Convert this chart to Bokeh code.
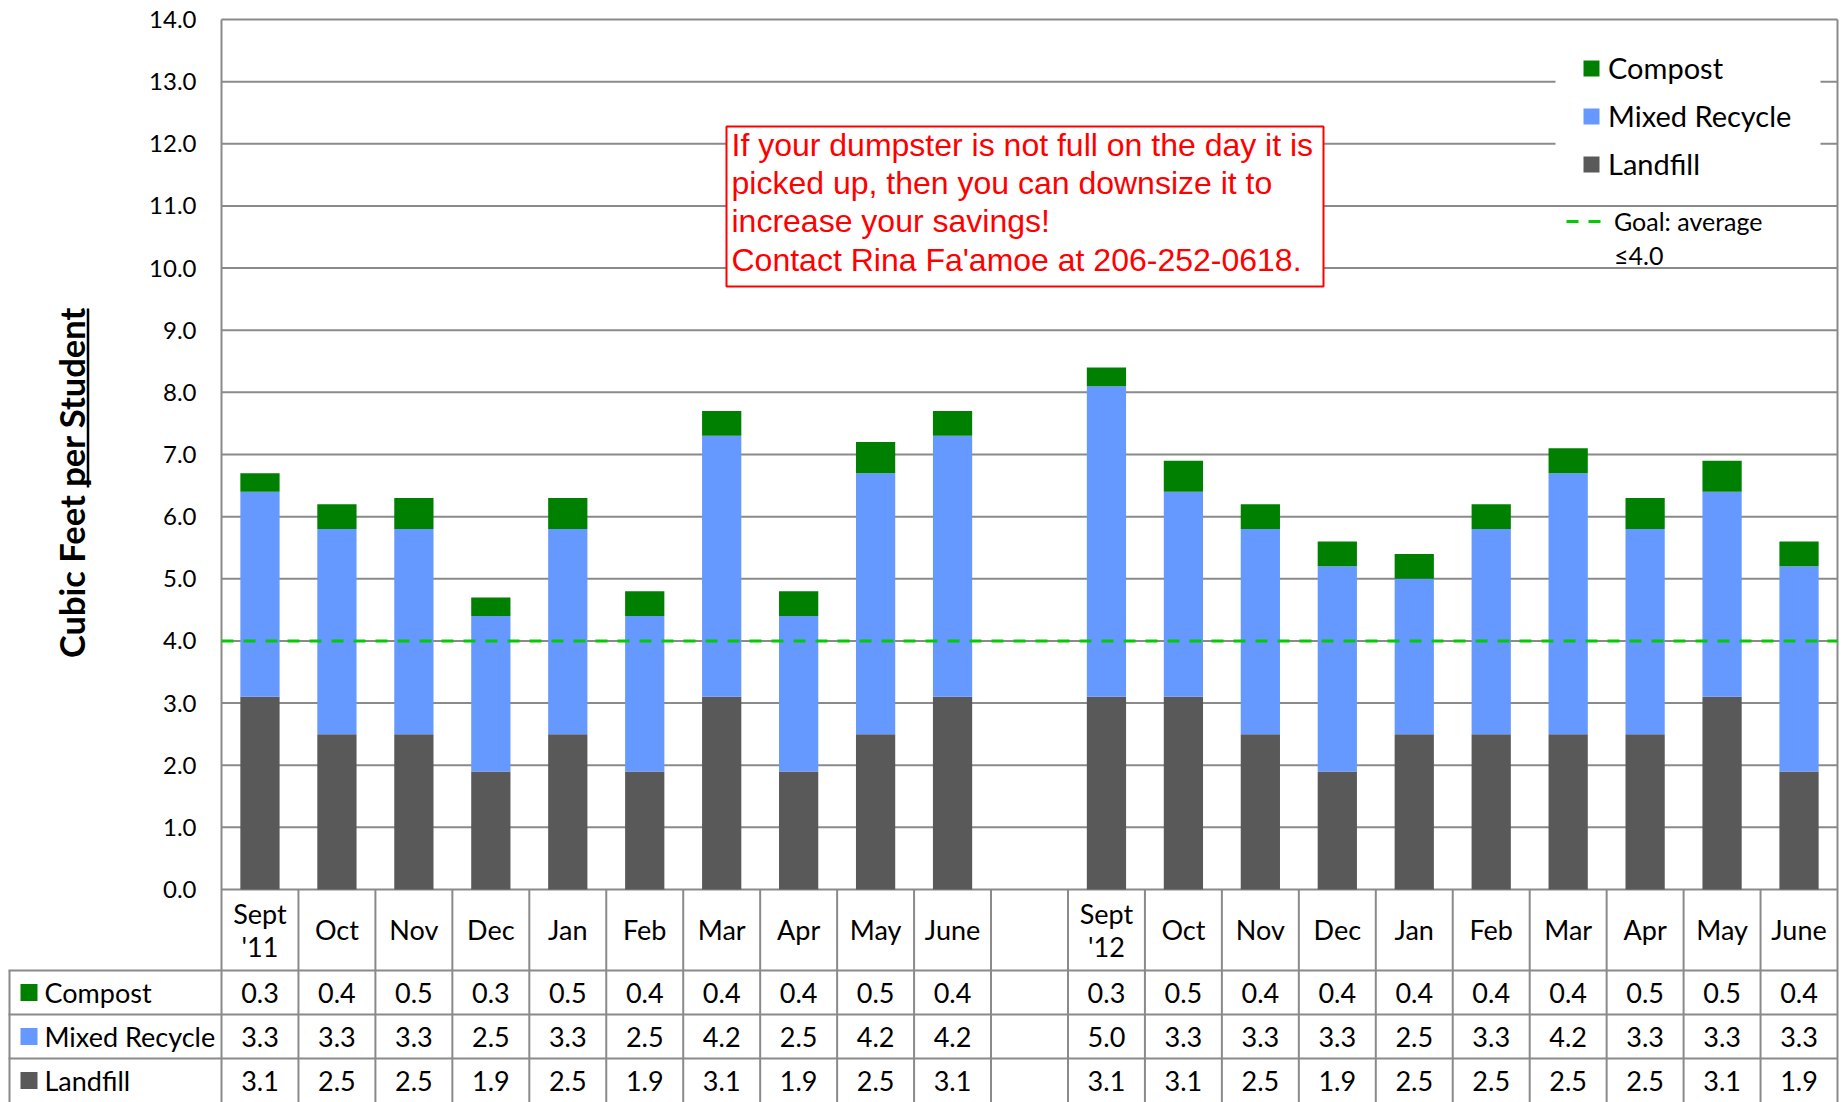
import math
from bokeh.plotting import figure
from bokeh.models import Range1d, Legend, LegendItem, ColumnDataSource
from bokeh.core.properties import value
from bokeh.embed import file_html
from bokeh.resources import INLINE

# ---------------- data ----------------
months = ["Sept\n'11", "Oct", "Nov", "Dec", "Jan", "Feb", "Mar", "Apr", "May", "June", "",
          "Sept\n'12", "Oct", "Nov", "Dec", "Jan", "Feb", "Mar", "Apr", "May", "June"]
compost = [0.3, 0.4, 0.5, 0.3, 0.5, 0.4, 0.4, 0.4, 0.5, 0.4, None,
           0.3, 0.5, 0.4, 0.4, 0.4, 0.4, 0.4, 0.5, 0.5, 0.4]
mixed_recycle = [3.3, 3.3, 3.3, 2.5, 3.3, 2.5, 4.2, 2.5, 4.2, 4.2, None,
                 5.0, 3.3, 3.3, 3.3, 2.5, 3.3, 4.2, 3.3, 3.3, 3.3]
landfill = [3.1, 2.5, 2.5, 1.9, 2.5, 1.9, 3.1, 1.9, 2.5, 3.1, None,
            3.1, 3.1, 2.5, 1.9, 2.5, 2.5, 2.5, 2.5, 3.1, 1.9]
series_names = ["Compost", "Mixed Recycle", "Landfill"]
series_colors = ["#008000", "#6699FF", "#595959"]
y_ticks = [float(v) for v in range(0, 15)]
y_tick_labels = ["%.1f" % v for v in y_ticks]
GOAL = 4.0
goal_label_lines = ["Goal: average", "\u22644.0"]
y_title = "Cubic Feet per Student"
note = ("If your dumpster is not full on the day it is\n"
        "picked up, then you can downsize it to\n"
        "increase your savings!\n"
        "Contact Rina Fa'amoe at 206-252-0618.")

# ---------------- layout (screen px -> data) ----------------
W, H = 1846, 1102
N = len(months)
AX_L = 221          # screen x of the value axis
PX_X = 1616 / N     # px per category slot
PX_Y = 870 / 14     # px per unit
Y0 = 889            # screen y of value 0


def fx(sx):
    return -0.5 + (sx - AX_L) / PX_X


def fy(sy):
    return (Y0 - sy) / PX_Y


GRID = "#8A8A8A"
FONT = "Lato"
X_END = N - 0.5
Y_TOP = y_ticks[-1]

p = figure(width=W, height=H, x_range=Range1d(fx(0), fx(W)), y_range=Range1d(fy(H), fy(0)),
           output_backend="svg", toolbar_location=None, tools="",
           min_border=0, x_axis_location=None, y_axis_location=None)
p.outline_line_color = None
p.xgrid.visible = False
p.ygrid.visible = False
p.background_fill_color = "white"
p.border_fill_color = "white"

# horizontal gridlines
p.segment(x0=[-0.5] * len(y_ticks), x1=[X_END] * len(y_ticks), y0=y_ticks, y1=y_ticks,
          line_color=GRID, line_width=2)
# value axis line and right border (run down through the table)
p.segment(x0=[-0.5, X_END], x1=[-0.5, X_END], y0=[fy(H)] * 2, y1=[Y_TOP] * 2,
          line_color=GRID, line_width=2)
# tick labels
p.text(x=[fx(196)] * len(y_ticks), y=y_ticks, text=y_tick_labels, text_align="right",
       text_baseline="middle", text_font=value(FONT), text_font_size="24px", text_color="black")

# y title with underline on "per Student"
p.text(x=[fx(71)], y=[fy(482)], text=[y_title], angle=math.pi / 2, text_align="center",
       text_baseline="middle", text_font=value(FONT), text_font_style="bold",
       text_font_size="34.5px", text_color="black")
p.segment(x0=[fx(87.5)], x1=[fx(87.5)], y0=[fy(308)], y1=[fy(487)], line_color="black",
          line_width=2.5)

# white area behind the series legend (hides the gridlines there)
p.quad(left=[fx(1555)], right=[fx(1820)], top=[fy(30)], bottom=[fy(194)],
       fill_color="white", line_color=None)

# ---------------- bars ----------------
idx = [i for i, m in enumerate(months) if m != ""]
src = ColumnDataSource(dict(
    x=idx,
    Landfill=[landfill[i] for i in idx],
    **{"Mixed Recycle": [mixed_recycle[i] for i in idx]},
    Compost=[compost[i] for i in idx],
))
stack_order = ["Landfill", "Mixed Recycle", "Compost"]
rends = p.vbar_stack(stack_order, x="x", width=0.51, source=src,
                     color=[series_colors[series_names.index(s)] for s in stack_order],
                     line_color=None)
rmap = dict(zip(stack_order, rends))

# goal line
goal_r = p.line(x=[-0.5, X_END], y=[GOAL, GOAL], line_color="#00CC00", line_width=3,
                line_dash="12 10")
goal_r2 = p.line(x=[-0.5, X_END], y=[GOAL, GOAL], line_alpha=0)

# ---------------- table ----------------
row_bottoms = [970, 1014, 1058]
row_centers = [992, 1036, 1080]
header_center = 929

vx = [i + 0.5 for i in range(N - 1)]
p.segment(x0=vx, x1=vx, y0=[fy(H)] * len(vx), y1=[0] * len(vx), line_color=GRID, line_width=2)
hy = [fy(s) for s in row_bottoms]
p.segment(x0=[fx(8)] * 3, x1=[X_END] * 3, y0=hy, y1=hy, line_color=GRID, line_width=2)
p.segment(x0=[fx(9)], x1=[fx(9)], y0=[fy(H)], y1=[fy(row_bottoms[0])], line_color=GRID, line_width=2)

p.text(x=list(range(N)), y=[fy(header_center)] * N, text=months,
       text_align="center", text_baseline="middle", text_font=value(FONT),
       text_font_size="27px", text_color="black", text_line_height=1.0)

for series, sy in zip([compost, mixed_recycle, landfill], row_centers):
    p.text(x=idx, y=[fy(sy)] * len(idx), text=["%.1f" % series[i] for i in idx],
           text_align="center", text_baseline="middle", text_font=value(FONT),
           text_font_size="27px", text_color="black")

p.rect(x=[fx(28.5)] * 3, y=[fy(s) for s in row_centers], width=17, height=17,
       width_units="screen", height_units="screen", fill_color=series_colors, line_color=None)
p.text(x=[fx(44)] * 3, y=[fy(s) for s in row_centers], text=series_names, text_align="left",
       text_baseline="middle", text_font=value(FONT), text_font_size="27px", text_color="black")

# ---------------- note box ----------------
p.quad(left=[fx(726)], right=[fx(1323)], top=[fy(126)], bottom=[fy(286)],
       fill_color="white", line_color="#FF0000", line_width=2)
p.text(x=[fx(731)], y=[fy(126)], text=[note], text_align="left", text_baseline="top",
       text_font=value("Liberation Sans"), text_font_size="32px", text_color="#FF0000",
       text_line_height=1.067)

# ---------------- legends ----------------
leg = Legend(items=[LegendItem(label=s, renderers=[rmap[s]]) for s in series_names],
             location=(1581, H - 181), margin=0, padding=18, spacing=13,
             glyph_width=20, glyph_height=20, label_standoff=7,
             label_text_font=FONT, label_text_font_size="29px", label_text_color="black",
             background_fill_alpha=0, border_line_color=None)
p.add_layout(leg)

leg2 = Legend(items=[LegendItem(label=goal_label_lines[0], renderers=[goal_r]),
                     LegendItem(label=goal_label_lines[1], renderers=[goal_r2])],
              location=(1566, H - 270), margin=0, padding=4, spacing=4,
              glyph_width=41, glyph_height=20, label_standoff=7,
              label_text_font=FONT, label_text_font_size="25px", label_text_color="black",
              background_fill_alpha=0, border_line_color=None)
p.add_layout(leg2)

open("out.html", "w").write(file_html(p, INLINE))
